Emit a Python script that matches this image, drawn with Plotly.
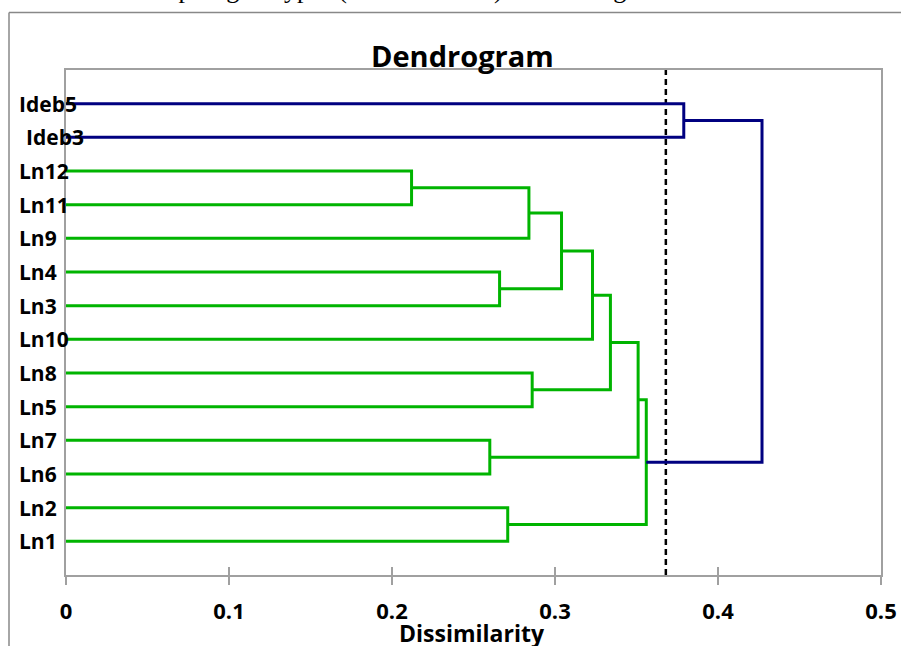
import plotly.graph_objects as go

# ---------------- data ----------------
leaves = ["Ideb5", "Ideb3", "Ln12", "Ln11", "Ln9", "Ln4", "Ln3",
          "Ln10", "Ln8", "Ln5", "Ln7", "Ln6", "Ln2", "Ln1"]   # top to bottom
merge_left = ["Ln12", "C1", "Ln4", "C2", "C4", "Ln8", "C5", "Ln7", "C7", "Ln2", "C9", "Ideb5", "C12"]
merge_right = ["Ln11", "Ln9", "Ln3", "C3", "Ln10", "Ln5", "C6", "Ln6", "C8", "Ln1", "C10", "Ideb3", "C11"]
merge_name = ["C1", "C2", "C3", "C4", "C5", "C6", "C7", "C8", "C9", "C10", "C11", "C12", "C13"]
merge_height = [0.212, 0.284, 0.266, 0.304, 0.323, 0.286, 0.334, 0.260, 0.351, 0.271, 0.356, 0.379, 0.427]
merge_group = ["Ln"] * 11 + ["Ideb", "Ideb"]
cut_level = 0.368
x_ticks = [0, 0.1, 0.2, 0.3, 0.4, 0.5]
x_tick_labels = ["0", "0.1", "0.2", "0.3", "0.4", "0.5"]
title_text = "Dendrogram"
x_title = "Dissimilarity"
top_text = "e cluster was made up of genotypes (Ln 1 and Ln 2) at similar genetic distance"

# ---------------- styles ----------------
W, H = 901, 646
ML, MR, MT, MB = 66, 20, 70, 71
PW, PH = W - ML - MR, H - MT - MB
colors = {"Ln": "#00B400", "Ideb": "#000080"}
FONT = "Open Sans"
label_left_px = 17
label_indent_px = {"Ideb3": 7}

def px_to_paper_x(px):
    return (px - ML) / PW

def px_to_paper_y(py):
    return 1 + (MT - py) / PH

# leaf positions (Ln1 = 1 at the bottom)
n = len(leaves)
pos = {name: n - i for i, name in enumerate(leaves)}
hgt = {name: 0.0 for name in leaves}

fig = go.Figure()

# cut line (under everything)
fig.add_trace(go.Scatter(x=[cut_level, cut_level], y=[0, 15], mode="lines",
                         line=dict(color="black", width=2.5, dash="6px,4px"),
                         hoverinfo="skip", showlegend=False))

segs = {"Ln": ([], []), "Ideb": ([], [])}
for a, b, nm, h, g in zip(merge_left, merge_right, merge_name, merge_height, merge_group):
    xa, ya = hgt[a], pos[a]
    xb, yb = hgt[b], pos[b]
    xs, ys = segs[g]
    xs += [xa, h, h, xb, None]
    ys += [ya, ya, yb, yb, None]
    pos[nm] = (ya + yb) / 2
    hgt[nm] = h

for g in ["Ln", "Ideb"]:
    xs, ys = segs[g]
    fig.add_trace(go.Scatter(x=xs, y=ys, mode="lines",
                             line=dict(color=colors[g], width=3),
                             hoverinfo="skip", showlegend=False))

# invisible trace on overlay axis for inside ticks
fig.add_trace(go.Scatter(x=[0, 0.5], y=[0, 0], xaxis="x2", mode="markers",
                         marker=dict(opacity=0), hoverinfo="skip", showlegend=False))

annotations = []
for name in leaves:
    annotations.append(dict(
        x=px_to_paper_x(label_left_px + label_indent_px.get(name, 0)), xref="paper",
        y=pos[name], yref="y", text=name, showarrow=False,
        xanchor="left", yanchor="middle",
        font=dict(family=FONT, size=21, color="black", weight="bold")))

annotations.append(dict(x=px_to_paper_x(462), y=px_to_paper_y(56), xref="paper", yref="paper",
                        text=title_text, showarrow=False, xanchor="center", yanchor="middle",
                        font=dict(family=FONT, size=29, color="black", weight="bold")))
annotations.append(dict(x=px_to_paper_x(472), y=px_to_paper_y(633), xref="paper", yref="paper",
                        text=x_title, showarrow=False, xanchor="center", yanchor="middle",
                        font=dict(family=FONT, size=23, color="black", weight="bold")))
annotations.append(dict(x=px_to_paper_x(-40), y=px_to_paper_y(-11), xref="paper", yref="paper",
                        text=top_text, showarrow=False, xanchor="left", yanchor="middle",
                        font=dict(family="Liberation Serif", size=26, color="black")))

shapes = [
    dict(type="line", xref="paper", yref="paper",
         x0=px_to_paper_x(9), x1=px_to_paper_x(905), y0=px_to_paper_y(12.5), y1=px_to_paper_y(12.5),
         line=dict(color="#888888", width=1.5)),
    dict(type="line", xref="paper", yref="paper",
         x0=px_to_paper_x(9), x1=px_to_paper_x(9), y0=px_to_paper_y(12.5), y1=px_to_paper_y(650),
         line=dict(color="#888888", width=1.5)),
]

axis_gray = "#A0A0A0"
fig.update_layout(
    width=W, height=H,
    margin=dict(l=ML, r=MR, t=MT, b=MB, autoexpand=False),
    paper_bgcolor="white", plot_bgcolor="white",
    showlegend=False,
    xaxis=dict(range=[0, 0.5], tickvals=x_ticks, ticktext=x_tick_labels,
               showgrid=False, zeroline=False, showline=True, mirror=True,
               linecolor=axis_gray, linewidth=2, ticks="outside", ticklen=8,
               tickwidth=2, tickcolor=axis_gray, ticklabelstandoff=8,
               tickfont=dict(family=FONT, size=22, color="black", weight="bold")),
    xaxis2=dict(range=[0, 0.5], overlaying="x", anchor="y", side="bottom",
                tickvals=x_ticks, showticklabels=False, ticks="inside", ticklen=8,
                tickwidth=2, tickcolor=axis_gray, showgrid=False, zeroline=False,
                showline=False),
    yaxis=dict(range=[0, 15], showgrid=False, zeroline=False, showline=True, mirror=True,
               linecolor=axis_gray, linewidth=2, showticklabels=False, ticks=""),
    annotations=annotations,
    shapes=shapes,
)

fig.write_html("out.html", config={"displayModeBar": False},
               post_script="document.body.style.margin='0';document.body.style.overflow='hidden';")
